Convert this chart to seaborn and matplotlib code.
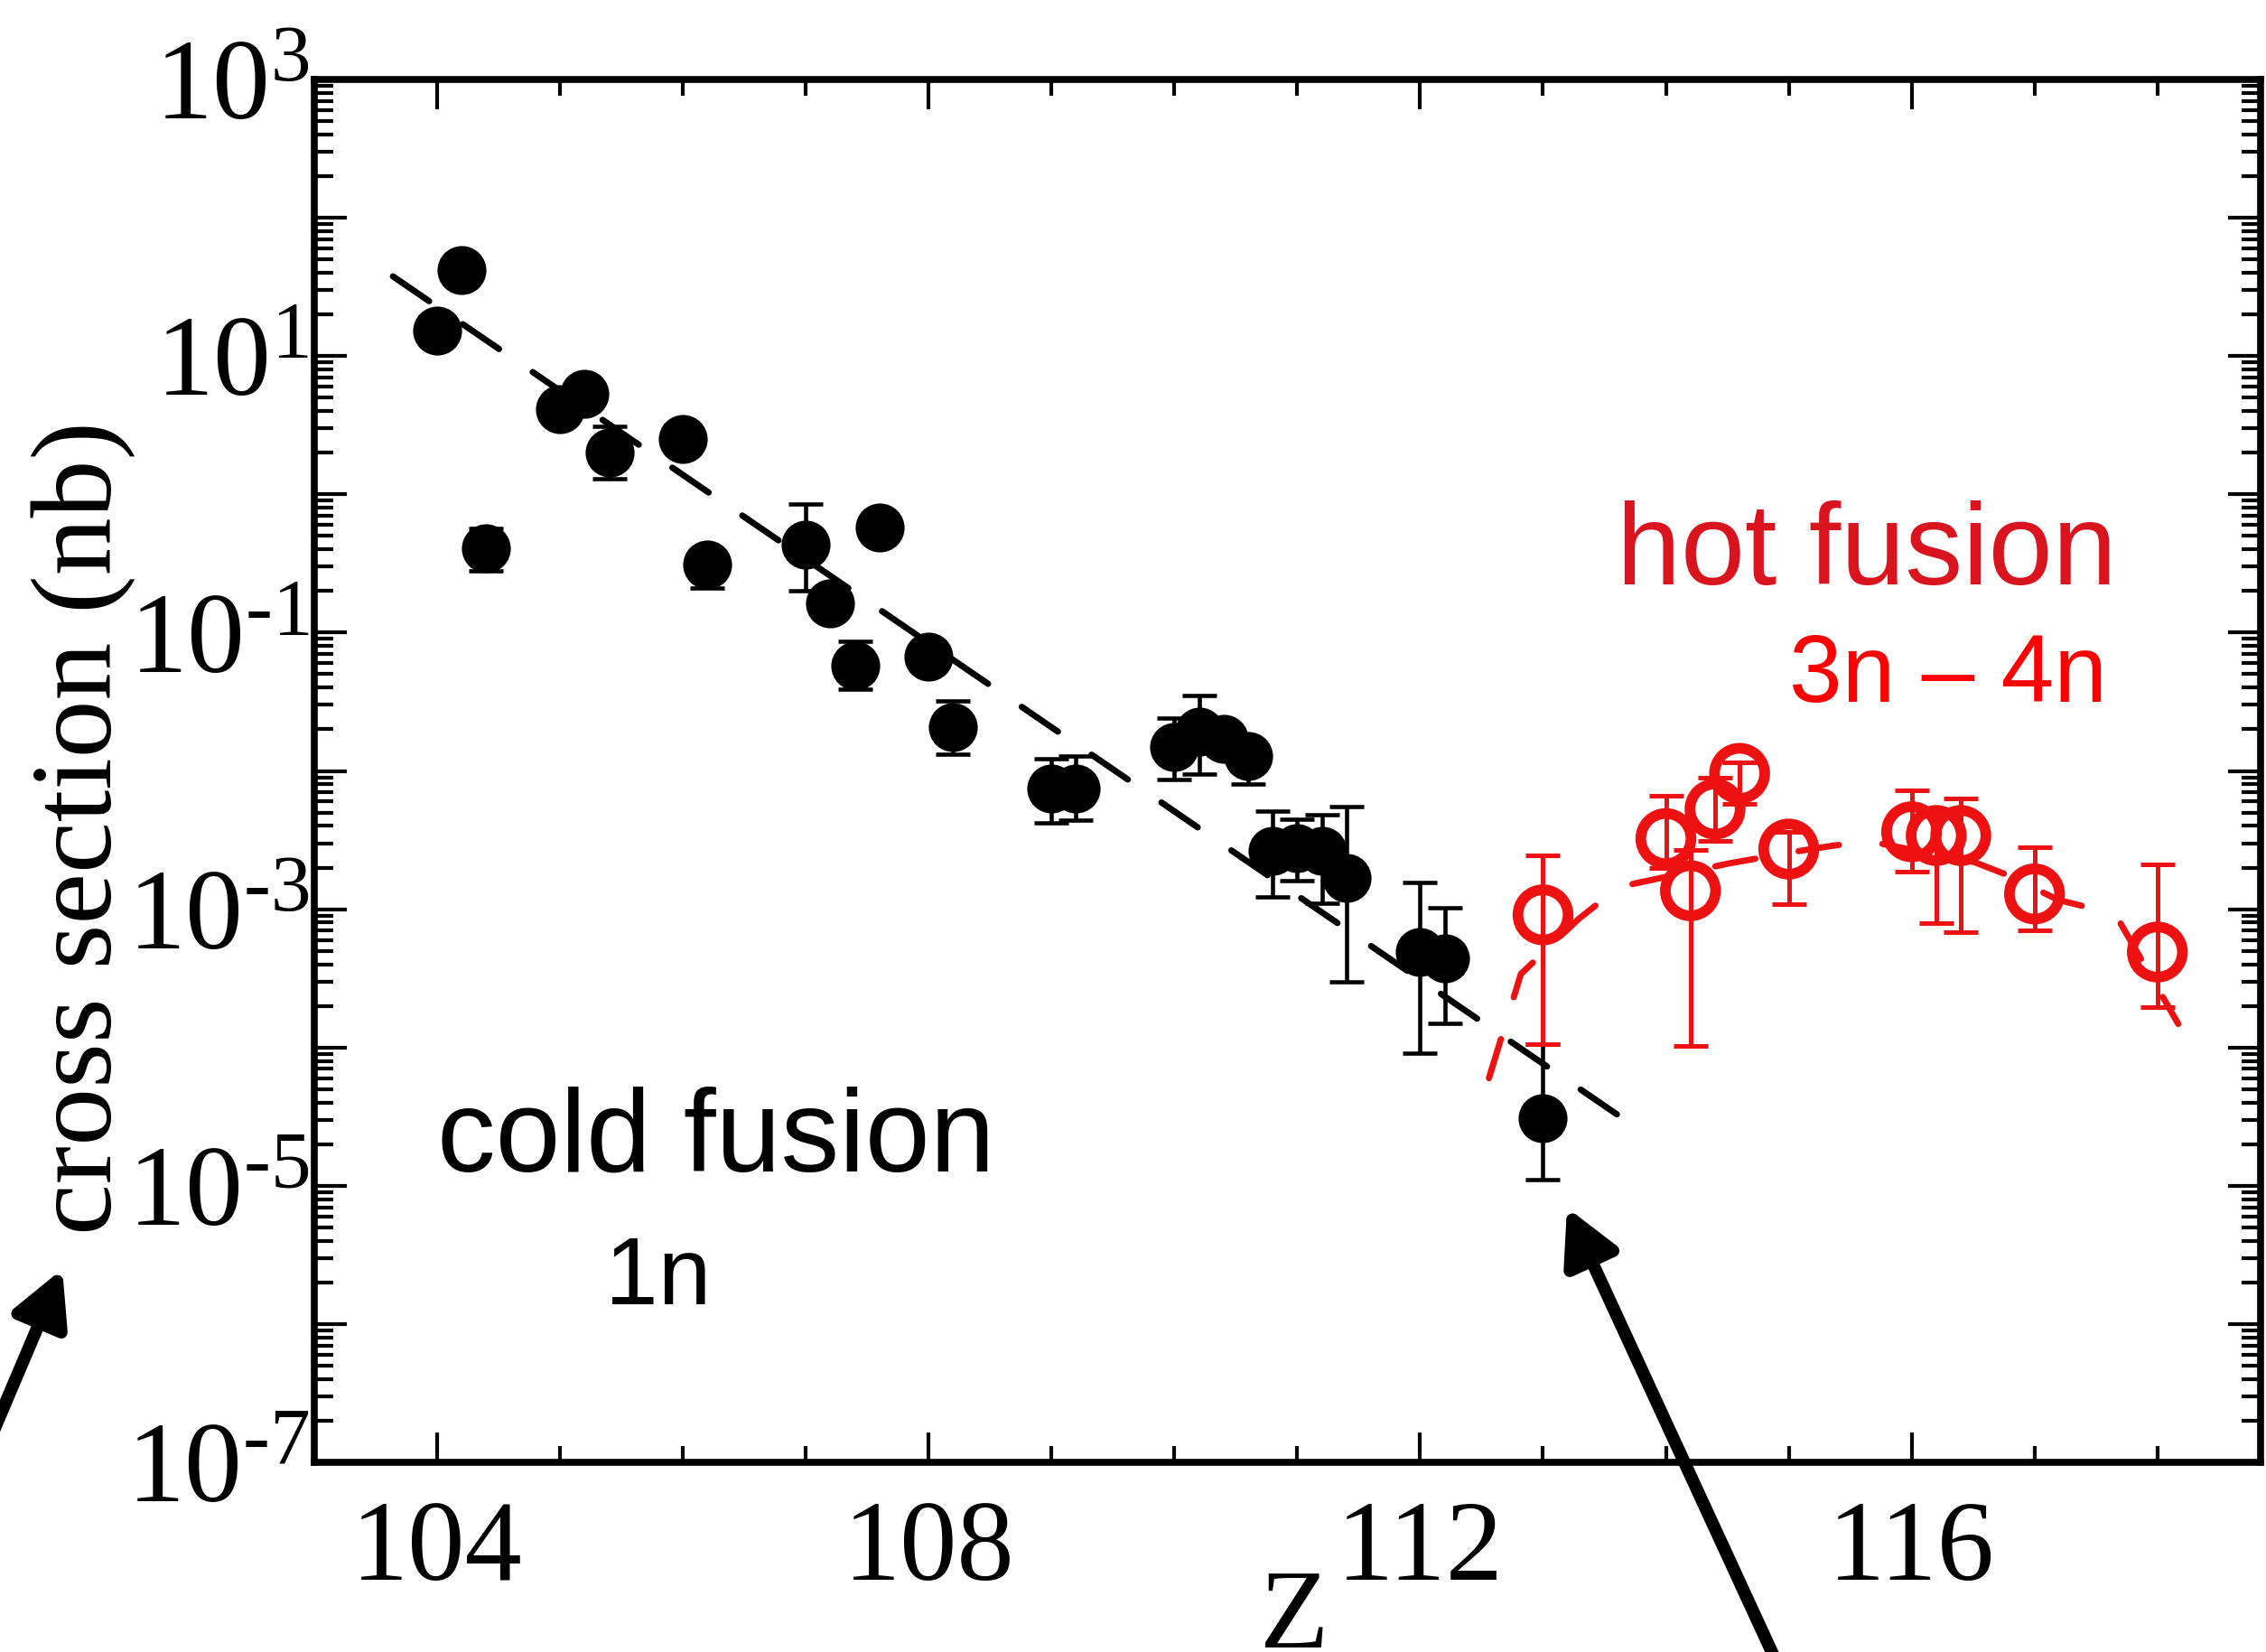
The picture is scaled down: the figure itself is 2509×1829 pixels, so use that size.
import numpy as np
import pandas as pd
import matplotlib
matplotlib.use("Agg")
import matplotlib.pyplot as plt
import matplotlib.ticker as mticker
import seaborn as sns

# ---------------- data ----------------
# cold fusion, 1n channel (filled black circles)
cold_Z = [104.0, 104.2, 104.4, 105.0, 105.2, 105.4, 106.0, 106.2, 107.0, 107.2,
          107.4, 107.6, 108.0, 108.2, 109.0, 109.2, 110.0, 110.2, 110.4, 110.6,
          110.8, 111.0, 111.2, 111.4, 112.0, 112.2, 113.0]
cold_sigma = [15.2, 42.0, 0.41, 4.1, 5.3, 2.0, 2.5, 0.31, 0.43, 0.163,
              0.058, 0.575, 0.067, 0.0207, 0.0075, 0.0075, 0.0149, 0.0192, 0.017, 0.0128,
              0.00264, 0.00277, 0.00264, 0.00168, 0.00049, 0.00044, 3.1e-5]
cold_low = [None, None, 0.28, None, None, 1.3, None, 0.21, 0.20, None,
            0.039, None, None, 0.0132, 0.0042, 0.0044, 0.0087, 0.0095, 0.013, 0.008,
            0.00123, 0.0016, 0.0011, 0.0003, 9.1e-5, 1.5e-4, 1.1e-5]
cold_high = [None, None, 0.57, None, None, 3.1, None, 0.36, 0.85, None,
             0.086, None, None, 0.032, 0.0123, 0.0128, 0.024, 0.035, 0.022, 0.016,
             0.0051, 0.0045, 0.0048, 0.0055, 0.00156, 0.00102, 1.06e-4]

# hot fusion, 3n-4n channels (open red circles)
hot_Z = [113.0, 114.0, 114.2, 114.4, 114.6, 115.0, 116.0, 116.2, 116.4, 117.0, 118.0]
hot_sigma = [0.00091, 0.00324, 0.00136, 0.0053, 0.0096, 0.00272, 0.00363, 0.00341,
             0.00341, 0.00129, 0.00049]
hot_low = [1.06e-4, 0.0020, 1.02e-4, 0.0031, 0.0058, 0.00109, 0.00187, 0.00079,
           0.00068, 0.0007, 0.000196]
hot_high = [0.00245, 0.0066, 0.0027, 0.0089, 0.0115, 0.0036, 0.0072, 0.0050,
            0.0063, 0.0028, 0.0021]

# systematics: straight trend for cold fusion, model curve for hot fusion
cold_fit_Z = [103.64, 113.62]
cold_fit_sigma = [37.7, 3.2e-5]
hot_model_Z = [112.56, 112.82, 113.29, 113.62, 114.51, 115.08, 115.36, 115.66,
               116.51, 116.77, 117.19, 117.40, 117.68, 118.17]
hot_model_sigma = [6.0e-5, 3.4e-4, 8.5e-4, 1.45e-3, 2.14e-3, 2.63e-3, 2.88e-3, 3.09e-3,
                   2.19e-3, 1.78e-3, 1.17e-3, 1.05e-3, 8.5e-4, 1.48e-4]

y_exponents = list(range(-7, 4))
x_major = [104, 108, 112, 116]

# ---------------- styling ----------------
sns.set_theme(style="ticks")
plt.rcParams["font.family"] = ["Liberation Serif", "DejaVu Serif"]
plt.rcParams["mathtext.fontset"] = "custom"
plt.rcParams["mathtext.rm"] = "Liberation Serif"
plt.rcParams["mathtext.it"] = "Liberation Serif:italic"
plt.rcParams["mathtext.bf"] = "Liberation Serif:bold"

W, H = 2509, 1829
fig = plt.figure(figsize=(W / 100, H / 100), dpi=100)
fig.patch.set_facecolor("white")
ax = fig.add_axes([348 / W, 1 - 1619 / H, (2503 - 348) / W, (1619 - 88) / H])
ax.set_facecolor("white")
ax.set_yscale("log")

RED = "#ee1111"

# dashed systematics
sns.lineplot(x=cold_fit_Z, y=cold_fit_sigma, ax=ax, color="black", lw=5,
             linestyle=(0, (7.0, 6.5)), dash_capstyle="round", zorder=2, sort=False)
sns.lineplot(x=hot_model_Z, y=hot_model_sigma, ax=ax, color=RED, lw=5,
             linestyle=(0, (6.5, 7.0)), dash_capstyle="round", zorder=2, sort=False)


# error bars
def draw_err(Z, s, lo, hi, color, lw):
    zz, ss, el, eh = [], [], [], []
    for z, v, l, h in zip(Z, s, lo, hi):
        if l is None:
            continue
        zz.append(z); ss.append(v); el.append(v - l); eh.append(h - v)
    ax.errorbar(zz, ss, yerr=[el, eh], fmt="none", ecolor=color, elinewidth=lw,
                capsize=14, capthick=lw, zorder=3)


draw_err(cold_Z, cold_sigma, cold_low, cold_high, "black", 3.3)
draw_err(hot_Z, hot_sigma, hot_low, hot_high, RED, 3.6)

# markers
cold_df = pd.DataFrame({"Z": cold_Z, "sigma": cold_sigma})
hot_df = pd.DataFrame({"Z": hot_Z, "sigma": hot_sigma})
sns.scatterplot(data=cold_df, x="Z", y="sigma", ax=ax, marker="o", s=39 ** 2,
                color="black", edgecolor="black", linewidth=0, zorder=4, legend=False)
sns.scatterplot(data=hot_df, x="Z", y="sigma", ax=ax, marker="o", s=40 ** 2,
                facecolor="none", edgecolor=RED, linewidth=8.5, zorder=4, legend=False)

# axes limits / ticks
ax.set_xlim(103.0, 118.84)
ax.set_ylim(1e-7, 1e3)
ax.xaxis.set_major_locator(mticker.FixedLocator(x_major))
ax.xaxis.set_minor_locator(mticker.MultipleLocator(1))
ax.xaxis.set_major_formatter(mticker.FuncFormatter(lambda v, p: f"{int(round(v))}"))
ax.yaxis.set_major_locator(mticker.FixedLocator([10.0 ** e for e in y_exponents]))
ax.yaxis.set_minor_locator(mticker.LogLocator(base=10, subs=np.arange(2, 10), numticks=200))


def yfmt(v, p):
    e = int(round(np.log10(v)))
    if e % 2 == 0:
        return ""
    sign = "\u2010" if e < 0 else ""
    return f"$10^{{{sign}{abs(e)}}}$"


ax.yaxis.set_major_formatter(mticker.FuncFormatter(yfmt))
ax.yaxis.set_minor_formatter(mticker.NullFormatter())

for side in ["left", "right", "top", "bottom"]:
    ax.spines[side].set_visible(True)
    ax.spines[side].set_color("black")
    ax.spines[side].set_linewidth(5.5)

ax.tick_params(which="both", direction="in", top=True, right=True, color="black",
               labelcolor="black")
ax.tick_params(axis="y", which="major", length=26, width=3, pad=4, labelsize=92)
ax.tick_params(axis="y", which="minor", length=15, width=3)
ax.tick_params(axis="x", which="major", length=24, width=3, pad=30, labelsize=91)
ax.tick_params(axis="x", which="minor", length=13, width=3)
ax.set_xlabel("")
ax.set_ylabel("")

# axis titles
fig.text(123 / W, 1 - 1367 / H, "cross section (nb)", rotation=90, rotation_mode="anchor",
         ha="left", va="baseline", fontsize=92, family="Liberation Serif", color="black")
fig.text(1432 / W, 1 - 1824 / H, "Z", ha="center", va="baseline", fontsize=90,
         family="Liberation Serif", color="black")

# annotations
ax.text(104.0, 1.27e-5, "cold fusion", ha="left", va="baseline", fontsize=93,
        family="Liberation Sans", color="black")
ax.text(105.37, 1.39e-6, "1n", ha="left", va="baseline", fontsize=76,
        family="Liberation Sans", color="black")
ax.text(113.6, 0.223, "hot fusion", ha="left", va="baseline", fontsize=92,
        family="Liberation Sans", color="#d9141e")
ax.text(115.0, 0.0316, "3n \u2013 4n", ha="left", va="baseline", fontsize=76,
        family="Liberation Sans", color="#ff0000")

# pointer arrows (outside the axes)
arrow_kw = dict(arrowstyle="-|>,head_length=1.8,head_width=0.95", color="black",
                lw=10, mutation_scale=20, shrinkA=0, shrinkB=0)
ax.annotate("", xy=(69 / W, 1 - 1405 / H), xycoords="figure fraction",
            xytext=(-111 / W, 1 - 1829 / H), textcoords="figure fraction",
            arrowprops=arrow_kw, annotation_clip=False)
ax.annotate("", xy=(1735 / W, 1 - 1337 / H), xycoords="figure fraction",
            xytext=(1990 / W, 1 - 1890 / H), textcoords="figure fraction",
            arrowprops=arrow_kw, annotation_clip=False)

fig.savefig("out.png", dpi=100, facecolor="white")
